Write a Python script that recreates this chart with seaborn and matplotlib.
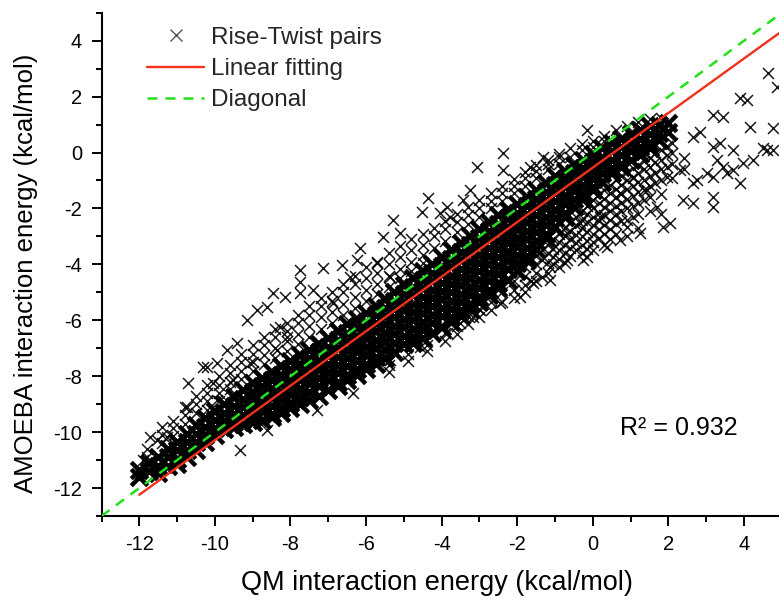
import matplotlib
matplotlib.use("Agg")
import matplotlib.pyplot as plt
from matplotlib.lines import Line2D
from matplotlib.ticker import MultipleLocator
import pandas as pd
import seaborn as sns

# ---------------- data ----------------
# dense core of the cloud: QM value of each column and the AMOEBA values in it
core_qm = [-12.0, -11.75, -11.5, -11.25, -11.0, -10.75, -10.5, -10.25, -10.0, -9.75,
           -9.5, -9.25, -9.0, -8.75, -8.5, -8.25, -8.0, -7.75, -7.5, -7.25,
           -7.0, -6.75, -6.5, -6.25, -6.0, -5.75, -5.5, -5.25, -5.0, -4.75,
           -4.5, -4.25, -4.0, -3.75, -3.5, -3.25, -3.0, -2.75, -2.5, -2.25,
           -2.0, -1.75, -1.5, -1.25, -1.0, -0.75, -0.5, -0.25, 0.0, 0.25,
           0.5, 0.75, 1.0, 1.25, 1.5, 1.75, 2.0]
core_amoeba = [
    [-11.35, -11.6], [-11.1, -11.4], [-10.9, -11.2, -11.45], [-10.6, -10.9, -11.2],
    [-10.35, -10.65, -10.95, -11.15], [-10.05, -10.35, -10.65, -10.9],
    [-9.75, -10.05, -10.35, -10.65], [-9.5, -9.8, -10.1, -10.35],
    [-9.25, -9.55, -9.85, -10.1], [-9.0, -9.3, -9.6, -9.9],
    [-8.75, -9.05, -9.35, -9.65, -9.8], [-8.5, -8.8, -9.1, -9.4, -9.7],
    [-8.25, -8.55, -8.85, -9.15, -9.45, -9.65], [-8.05, -8.35, -8.65, -8.95, -9.25, -9.55],
    [-7.85, -8.15, -8.45, -8.75, -9.05, -9.35, -9.45], [-7.65, -7.95, -8.25, -8.55, -8.85, -9.15, -9.3],
    [-7.45, -7.75, -8.05, -8.35, -8.65, -8.95, -9.15], [-7.25, -7.55, -7.85, -8.15, -8.45, -8.75, -9.0],
    [-7.05, -7.35, -7.65, -7.95, -8.25, -8.55, -8.85], [-6.85, -7.15, -7.45, -7.75, -8.05, -8.35, -8.7],
    [-6.65, -6.95, -7.25, -7.55, -7.85, -8.15, -8.5], [-6.4, -6.7, -7.0, -7.3, -7.6, -7.9, -8.2, -8.35],
    [-6.15, -6.45, -6.75, -7.05, -7.35, -7.65, -7.95, -8.15], [-5.95, -6.25, -6.55, -6.85, -7.15, -7.45, -7.75, -7.95],
    [-5.75, -6.05, -6.35, -6.65, -6.95, -7.25, -7.55, -7.75], [-5.5, -5.8, -6.1, -6.4, -6.7, -7.0, -7.3, -7.55],
    [-5.25, -5.55, -5.85, -6.15, -6.45, -6.75, -7.05, -7.35], [-5.0, -5.3, -5.6, -5.9, -6.2, -6.5, -6.8, -7.15],
    [-4.75, -5.05, -5.35, -5.65, -5.95, -6.25, -6.55, -6.85], [-4.5, -4.8, -5.1, -5.4, -5.7, -6.0, -6.3, -6.6, -6.8],
    [-4.25, -4.55, -4.85, -5.15, -5.45, -5.75, -6.05, -6.35, -6.65], [-4.0, -4.3, -4.6, -4.9, -5.2, -5.5, -5.8, -6.1, -6.45],
    [-3.75, -4.05, -4.35, -4.65, -4.95, -5.25, -5.55, -5.85, -6.25], [-3.5, -3.8, -4.1, -4.4, -4.7, -5.0, -5.3, -5.6, -5.9, -6.05],
    [-3.25, -3.55, -3.85, -4.15, -4.45, -4.75, -5.05, -5.35, -5.65, -5.85], [-3.0, -3.3, -3.6, -3.9, -4.2, -4.5, -4.8, -5.1, -5.4, -5.6],
    [-2.75, -3.05, -3.35, -3.65, -3.95, -4.25, -4.55, -4.85, -5.15, -5.35], [-2.5, -2.8, -3.1, -3.4, -3.7, -4.0, -4.3, -4.6, -4.9, -5.1],
    [-2.25, -2.55, -2.85, -3.15, -3.45, -3.75, -4.05, -4.35, -4.65, -4.85], [-2.05, -2.35, -2.65, -2.95, -3.25, -3.55, -3.85, -4.15, -4.55],
    [-1.85, -2.15, -2.45, -2.75, -3.05, -3.35, -3.65, -3.95, -4.25], [-1.6, -1.9, -2.2, -2.5, -2.8, -3.1, -3.4, -3.7, -3.85],
    [-1.35, -1.65, -1.95, -2.25, -2.55, -2.85, -3.15, -3.45], [-1.1, -1.4, -1.7, -2.0, -2.3, -2.6, -2.9, -3.05],
    [-0.85, -1.15, -1.45, -1.75, -2.05, -2.35, -2.65], [-0.65, -0.95, -1.25, -1.55, -1.85, -2.15, -2.3],
    [-0.45, -0.75, -1.05, -1.35, -1.65, -1.95], [-0.25, -0.55, -0.85, -1.15, -1.45, -1.65],
    [-0.05, -0.35, -0.65, -0.95, -1.25, -1.35], [0.15, -0.15, -0.45, -0.75, -1.05],
    [0.35, 0.05, -0.25, -0.55, -0.75], [0.5, 0.2, -0.1, -0.4, -0.5],
    [0.65, 0.35, 0.05, -0.25], [0.8, 0.5, 0.2, -0.05],
    [0.95, 0.65, 0.35, 0.15], [1.0, 0.7, 0.45], [1.05, 0.75],
]

# looser points above the core
upper_qm = [-11.8, -11.4, -11.1, -10.8, -10.5, -10.2, -9.9, -9.6, -9.3, -9.0,
            -8.7, -8.4, -8.1, -7.8, -7.5, -7.2, -6.9, -6.6, -6.3, -6.0,
            -5.7, -5.4, -5.1, -4.8, -4.5, -4.2, -3.9, -3.6, -3.3, -3.0,
            -2.7, -2.4, -2.1, -1.8, -1.5, -1.2, -0.9, -0.6, -0.3, 0.0,
            0.3, 0.6, 0.9, 1.2, 1.5, 1.8]
upper_amoeba = [
    [-10.6, -10.9], [-9.8, -10.1, -10.4], [-9.6, -9.85, -10.15], [-9.1, -9.4, -9.7],
    [-8.7, -9.0, -9.3], [-8.3, -8.6, -8.9, -9.2], [-8.0, -8.3, -8.6, -8.9], [-7.6, -7.9, -8.2, -8.45],
    [-7.2, -7.5, -7.8, -8.1], [-6.9, -7.2, -7.5, -7.8], [-6.6, -6.9, -7.25, -7.55], [-6.3, -6.6, -7.0, -7.35],
    [-6.1, -6.4, -6.75, -7.1], [-5.8, -6.1, -6.5, -6.85], [-5.5, -5.8, -6.2, -6.6], [-5.2, -5.5, -5.9, -6.3],
    [-5.0, -5.3, -5.7, -6.1], [-4.7, -5.0, -5.4, -5.8], [-4.4, -4.7, -5.15, -5.55], [-4.1, -4.5, -4.9, -5.3],
    [-3.9, -4.3, -4.7, -5.05], [-3.6, -4.0, -4.4, -4.8], [-3.35, -3.75, -4.15, -4.5], [-3.1, -3.5, -3.9, -4.25],
    [-2.9, -3.3, -3.65, -3.95], [-2.7, -3.0, -3.4], [-2.45, -2.75, -3.15], [-2.2, -2.5, -2.85],
    [-1.95, -2.25, -2.55], [-1.7, -2.0, -2.3], [-1.45, -1.75, -2.0], [-1.2, -1.45, -1.75],
    [-0.95, -1.2, -1.45], [-0.7, -0.9, -1.2], [-0.45, -0.65, -0.9], [-0.25, -0.4, -0.6],
    [-0.05, -0.15, -0.4], [0.15, -0.15], [0.3, 0.1], [0.4, 0.2],
    [0.6, 0.4], [0.8], [0.95], [1.1], [1.2], [1.25],
]

# looser points below the core (right half)
lower_qm = [-5.4, -4.9, -4.4, -3.9, -3.6, -3.3, -3.0, -2.7, -2.4, -2.1,
            -1.8, -1.65, -1.5, -1.35, -1.2, -1.05, -0.9, -0.75, -0.6, -0.45,
            -0.3, -0.15, 0.0, 0.15, 0.3, 0.45, 0.6, 0.75, 0.9, 1.05,
            1.2, 1.35, 1.5, 1.65, 1.8, 1.95, 2.1, 2.4]
lower_amoeba = [
    [-7.6, -7.85], [-7.2, -7.45], [-6.9, -7.1], [-6.45, -6.75], [-6.2, -6.5],
    [-5.85, -6.15], [-5.6, -5.9], [-5.35, -5.65], [-5.0, -5.35], [-4.6, -4.9, -5.2],
    [-4.1, -4.4, -4.75, -5.0], [-3.85, -4.6], [-3.7, -4.0, -4.3, -4.6], [-3.5, -3.85, -4.45],
    [-3.3, -3.6, -3.9, -4.3], [-3.1, -3.45, -3.75, -4.0], [-2.9, -3.2, -3.5, -3.8, -4.1],
    [-2.7, -3.0, -3.3, -3.6, -3.95], [-2.5, -2.8, -3.1, -3.4, -3.7], [-2.3, -2.6, -2.95, -3.25, -3.5],
    [-2.1, -2.4, -2.7, -3.0, -3.3, -3.6], [-1.9, -2.2, -2.5, -2.85, -3.15, -3.45],
    [-1.7, -2.0, -2.3, -2.6, -2.9, -3.2, -3.5], [-1.5, -1.8, -2.15, -2.45, -2.75, -3.05],
    [-1.35, -1.65, -1.95, -2.25, -2.6, -2.9, -3.3], [-1.15, -1.45, -1.8, -2.1, -2.4, -2.75, -3.1],
    [-1.0, -1.3, -1.6, -1.9, -2.2, -2.55, -2.9], [-0.85, -1.15, -1.5, -1.8, -2.1, -2.45],
    [-0.7, -1.0, -1.3, -1.65, -2.0, -2.4, -3.0], [-0.55, -0.9, -1.2, -1.55, -1.9, -2.3],
    [-0.45, -0.75, -1.05, -1.4, -1.8, -2.2, -2.7], [-0.3, -0.6, -1.0, -1.35, -1.7],
    [-0.2, -0.5, -0.85, -1.2, -1.6, -2.1], [0.0, -0.35, -0.75, -1.1],
    [0.1, -0.25, -0.6, -1.0, -1.5, -2.2], [0.25, -0.1, -0.5], [0.35, 0.0, -0.4, -0.9], [-0.2, -0.6],
]

# isolated crosses (QM, AMOEBA)
outlier_points = [
    (-4.36, -1.63), (-4.52, -2.13), (-5.29, -2.41), (-3.87, -1.95), (-6.16, -3.42),
    (-7.13, -4.13), (-7.75, -4.2), (-7.75, -4.63), (-6.64, -4.02), (-6.24, -3.84),
    (-8.15, -5.17), (-7.41, -4.92), (-8.89, -5.63), (-8.62, -5.53), (-9.15, -6.0),
    (-8.28, -6.24), (-10.21, -7.67), (-10.71, -8.24), (-9.42, -6.81), (-9.68, -7.06),
    (-9.94, -7.53), (-5.55, -3.02), (-5.1, -2.88), (-5.71, -3.95), (-5.37, -4.45),
    (-7.75, -5.02), (-6.88, -5.38), (-6.43, -4.45), (-8.36, -7.06), (-8.09, -6.6),
    (-10.31, -7.67), (-8.46, -5.02), (-10.74, -9.1), (-11.27, -10.17), (-11.72, -10.17),
    (-11.9, -11.0), (-11.98, -11.46), (-11.53, -10.28), (-9.94, -8.85), (-9.52, -8.14),
    (-9.07, -7.53), (-10.05, -8.24),
    (-3.07, -0.52), (-2.38, -0.02), (-2.38, -0.63), (-0.16, 0.8), (-1.32, -0.16),
    (-1.66, -0.52), (-4.05, -2.16), (-3.25, -1.34), (-3.43, -1.7), (-3.78, -2.31),
    (-6.35, -8.6), (-7.3, -9.2), (-8.62, -9.92), (-9.34, -10.64), (-4.58, -6.96),
    (-4.23, -6.46), (-5.37, -7.42),
    (4.63, 2.84), (4.87, 2.34), (3.89, 1.95), (4.07, 1.88), (3.17, 1.34), (3.44, 1.27),
    (4.15, 0.91), (4.76, 0.88), (2.65, 0.55), (2.84, 0.73), (4.5, 0.16), (4.76, 0.09),
    (3.7, 0.09), (3.97, -0.37), (3.28, -0.27), (3.44, -0.52), (3.02, -0.73), (3.17, -0.88),
    (3.89, -1.09), (2.75, -0.98), (3.17, -1.59), (3.17, -1.95), (2.65, -1.81), (2.04, -2.52),
    (1.86, -2.66), (2.39, -1.7), (3.7, -0.63), (4.24, -0.27), (1.69, -1.95), (1.24, -2.88),
    (0.9, -2.66), (0.37, -3.38), (-0.16, -3.74), (-0.26, -3.84), (-0.69, -3.84), (-1.13, -4.09),
    (-1.58, -4.67), (-1.13, -4.56), (-1.93, -5.17), (-2.46, -5.38), (-2.99, -5.63), (-3.52, -6.1),
    (-3.87, -6.46), (-3.17, -5.88), (0.72, -3.13), (0.19, -2.31), (1.43, -1.34), (1.96, -0.88),
    (2.31, -0.63), (2.65, -1.09), (1.06, -0.88), (0.72, -1.45), (-0.34, -2.52), (-0.69, -2.88),
    (-0.08, -1.81), (3.17, 0.2), (3.36, 0.34), (3.55, -0.73), (4.6, 0.09),
]

# fitted line end points and diagonal
fit_qm = [-12.0, 5.0]
fit_amoeba = [-12.24, 4.34]
diag_qm = [-13.0, 5.0]
diag_amoeba = [-13.0, 5.0]
r_squared = "0.932"

x_ticks = [-12, -10, -8, -6, -4, -2, 0, 2, 4]
y_ticks = [-12, -10, -8, -6, -4, -2, 0, 2, 4]

# ---------------- tables ----------------
core_df = pd.DataFrame({
    "qm": [q for q, ys in zip(core_qm, core_amoeba) for _ in ys],
    "amoeba": [y for ys in core_amoeba for y in ys],
})
loose_df = pd.DataFrame({
    "qm": [q for q, ys in zip(upper_qm, upper_amoeba) for _ in ys]
          + [q for q, ys in zip(lower_qm, lower_amoeba) for _ in ys]
          + [p[0] for p in outlier_points],
    "amoeba": [y for ys in upper_amoeba for y in ys]
              + [y for ys in lower_amoeba for y in ys]
              + [p[1] for p in outlier_points],
})

# ---------------- plot ----------------
sns.set_theme(style="ticks")
plt.rcParams["font.family"] = ["Liberation Sans", "DejaVu Sans"]
plt.rcParams["axes.unicode_minus"] = False

RED = "#f2301c"
GREEN = "#22e01c"

fig = plt.figure(figsize=(7.79, 6.0), dpi=100)
ax = fig.add_axes([0.1303, 0.14, 1.0037 - 0.1303, 0.9788 - 0.14])

sns.scatterplot(data=loose_df, x="qm", y="amoeba", marker="x", s=62,
                color="black", linewidth=1.1, alpha=0.9, ax=ax, legend=False)
sns.scatterplot(data=core_df, x="qm", y="amoeba", marker="x", s=140,
                color="black", linewidth=3.2, ax=ax, legend=False)

ax.plot(diag_qm, diag_amoeba, color=GREEN, lw=1.8, linestyle=(0, (4, 3.2)), zorder=5)
ax.plot(fit_qm, fit_amoeba, color=RED, lw=1.7, zorder=6)

ax.set_xlim(-13, 5)
ax.set_ylim(-13, 5)
ax.set_xticks(x_ticks)
ax.set_xticklabels([str(t) for t in x_ticks])
ax.set_yticks(y_ticks)
ax.set_yticklabels([str(t) for t in y_ticks])
ax.xaxis.set_minor_locator(MultipleLocator(1))
ax.yaxis.set_minor_locator(MultipleLocator(1))
ax.tick_params(which="major", direction="out", length=7, width=1.4,
               labelsize=14.5, pad=7, color="black", labelcolor="black")
ax.tick_params(which="minor", direction="out", length=4, width=1.4, color="black")
for side in ["top", "right"]:
    ax.spines[side].set_visible(False)
for side in ["left", "bottom"]:
    ax.spines[side].set_linewidth(1.5)
    ax.spines[side].set_color("black")

ax.set_xlabel("QM interaction energy (kcal/mol)", fontsize=19.5, color="black")
ax.set_ylabel("AMOEBA interaction energy (kcal/mol)", fontsize=18.5, color="black")
ax.xaxis.set_label_coords(0.493, -0.107)
ax.yaxis.set_label_coords(-0.093, 0.482)

ax.text(0.72, -10.1, "R\u00b2 = " + r_squared, fontsize=18, ha="left",
        va="baseline", color="black")

handles = [
    Line2D([], [], marker="x", color="#555555", linestyle="None",
           markersize=8, markeredgewidth=1.0),
    Line2D([], [], color=RED, lw=1.7),
    Line2D([], [], color=GREEN, lw=1.8, linestyle=(0, (4, 3.2))),
]
ax.legend(handles, ["Rise-Twist pairs", "Linear fitting", "Diagonal"],
          loc="upper left", bbox_to_anchor=(0.067, 0.972), frameon=False,
          fontsize=17.5, handlelength=2.35, handletextpad=0.3, labelspacing=0.38,
          borderpad=0, borderaxespad=0)

fig.savefig("out.png", dpi=100)
